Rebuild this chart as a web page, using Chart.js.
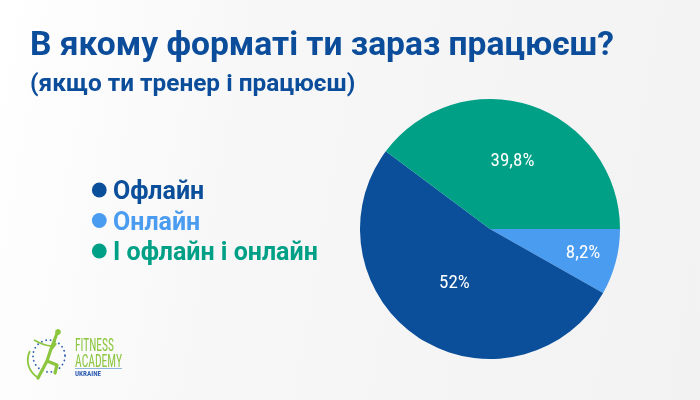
<!DOCTYPE html>
<html>
<head>
<meta charset="utf-8">
<script src="https://cdn.jsdelivr.net/npm/chart.js@4/dist/chart.umd.min.js"></script>
<style>
  html, body { margin: 0; padding: 0; }
  body {
    width: 700px; height: 400px; overflow: hidden; position: relative;
    background: linear-gradient(100deg, #ffffff 0%, #f7f7f7 35%, #f2f2f2 100%);
    font-family: Roboto, "Noto Sans", sans-serif;
  }
  #wrap { position: absolute; left: 0; top: 0; width: 700px; height: 400px; }
  .title {
    position: absolute; left: 30px; top: 26.7px; margin: 0; line-height: 1;
    font-size: 33.6px; font-weight: bold; color: #0b4d9a; white-space: nowrap;
  }
  .subtitle {
    position: absolute; left: 30px; top: 70.5px; margin: 0; line-height: 1;
    font-size: 24.4px; font-weight: bold; color: #0b4d9a; white-space: nowrap;
  }
  #logo { position: absolute; left: 25px; top: 325px; }
</style>
</head>
<body>
<div id="wrap"><canvas id="formatChart" width="700" height="400"></canvas></div>
<h1 class="title">В якому форматі ти зараз працюєш?</h1>
<h2 class="subtitle">(якщо ти тренер і працюєш)</h2>

<svg id="logo" width="105" height="60" viewBox="0 0 105 60">
  <circle cx="24" cy="31" r="16" fill="none" stroke="#2f5fb0" stroke-width="1.8" stroke-dasharray="0.1 4.4" stroke-linecap="round"/>
  <path d="M5 26 A20 20 0 0 0 12 52" fill="none" stroke="#8cc63f" stroke-width="1.8"/>
  <path d="M9 15 C18 20 26 22 30 20" fill="none" stroke="#8cc63f" stroke-width="1.6"/>
  <path d="M13 53 L22 36 L26 24 L33 6 M26 24 L30 19 M22 36 L32 40 L30 48" fill="none" stroke="#8cc63f" stroke-width="3.2" stroke-linecap="round" stroke-linejoin="round"/>
  <circle cx="33" cy="7" r="2.8" fill="#8cc63f"/>
  <text x="50" y="26" textLength="39" lengthAdjust="spacingAndGlyphs" font-family="Roboto Condensed, Roboto, sans-serif" font-size="18" fill="#8cc63f">FITNESS</text>
  <text x="50" y="41.7" textLength="47" lengthAdjust="spacingAndGlyphs" font-family="Roboto Condensed, Roboto, sans-serif" font-size="18" fill="#8cc63f">ACADEMY</text>
  <line x1="50" y1="43.5" x2="97" y2="43.5" stroke="#8fb4e0" stroke-width="1"/>
  <text x="50" y="51" textLength="26" lengthAdjust="spacingAndGlyphs" font-family="Roboto Condensed, Roboto, sans-serif" font-size="7.5" font-weight="bold" fill="#2f5fb0">UKRAINE</text>
</svg>

<script>
// legend order as in the picture
const categories = ['Офлайн', 'Онлайн', 'І офлайн і онлайн'];
const shares = [52, 8.2, 39.8];
const shareLabels = ['52%', '8,2%', '39,8%'];
const sliceColors = ['#0b4f9b', '#4a9cf0', '#00a086'];
// slices go clockwise from 3 o'clock: Онлайн, Офлайн, І офлайн і онлайн
const sliceOrder = [1, 0, 2];
const labelRadius = [0.5, 0.74, 0.55];

const FONT = 'Roboto, "Noto Sans", sans-serif';

const sideLegend = {
    id: 'sideLegend',
    afterDraw(chart) {
        const ctx = chart.ctx;
        ctx.save();
        ctx.font = 'bold 25px ' + FONT;
        ctx.textBaseline = 'alphabetic';
        categories.forEach((name, i) => {
            const y = 190 + i * 30.5;
            ctx.fillStyle = sliceColors[i];
            ctx.beginPath();
            ctx.arc(99.3, y, 7.4, 0, Math.PI * 2);
            ctx.fill();
            ctx.fillText(name, 113, y + 9);
        });
        ctx.restore();
    }
};

const sliceText = {
    id: 'sliceText',
    afterDatasetsDraw(chart) {
        const ctx = chart.ctx;
        const arcs = chart.getDatasetMeta(0).data;
        ctx.save();
        ctx.font = '19px "Roboto Condensed", ' + FONT;
        ctx.fillStyle = '#ffffff';
        ctx.textAlign = 'center';
        ctx.textBaseline = 'middle';
        arcs.forEach((arc, j) => {
            const i = sliceOrder[j];
            const mid = (arc.startAngle + arc.endAngle) / 2;
            const r = arc.outerRadius * labelRadius[i];
            ctx.fillText(shareLabels[i], arc.x + Math.cos(mid) * r, arc.y + Math.sin(mid) * r);
        });
        ctx.restore();
    }
};

Promise.all([
    document.fonts.load('bold 25px Roboto'),
    document.fonts.load('19px "Roboto Condensed"')
]).then(() => {
    new Chart(document.getElementById('formatChart'), {
        type: 'pie',
        data: {
            labels: sliceOrder.map(i => categories[i]),
            datasets: [{
                data: sliceOrder.map(i => shares[i]),
                backgroundColor: sliceOrder.map(i => sliceColors[i]),
                borderWidth: 0
            }]
        },
        options: {
            responsive: false,
            animation: false,
            rotation: 90,
            layout: { padding: { left: 360, right: 80, top: 99, bottom: 41 } },
            plugins: {
                legend: { display: false },
                tooltip: { enabled: false }
            }
        },
        plugins: [sliceText, sideLegend]
    });
});
</script>
</body>
</html>
